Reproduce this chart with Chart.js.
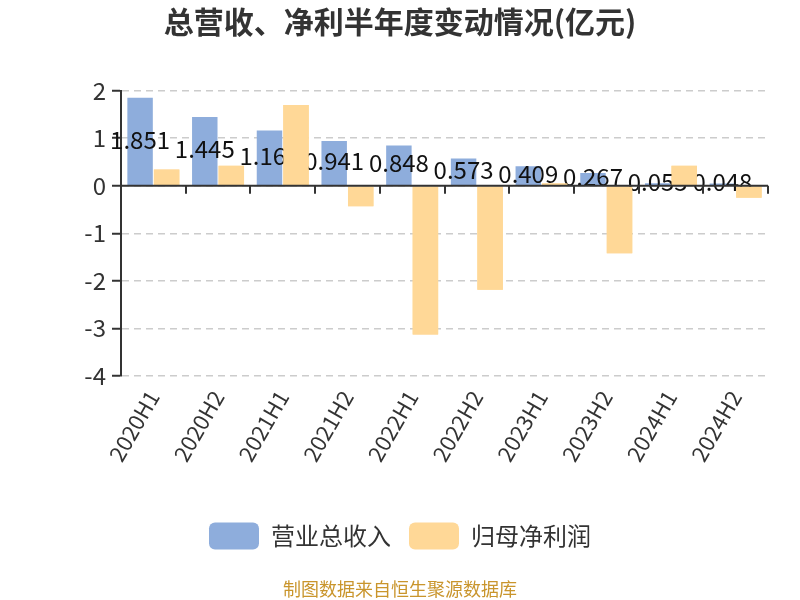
<!DOCTYPE html>
<html>
<head>
<meta charset="utf-8">
<script src="https://cdn.jsdelivr.net/npm/chart.js@4/dist/chart.umd.min.js"></script>
<style>
html,body{margin:0;padding:0;background:#fff;}
#wrap{width:800px;height:600px;position:relative;}
</style>
</head>
<body>
<div id="wrap"><canvas id="c" width="800" height="600"></canvas></div>
<script>
const categories = ['2020H1','2020H2','2021H1','2021H2','2022H1','2022H2','2023H1','2023H2','2024H1','2024H2'];
const revenue = [1.851,1.445,1.163,0.941,0.848,0.573,0.409,0.267,0.055,0.048];
const profit = [0.34,0.42,1.70,-0.43,-3.13,-2.19,0.05,-1.42,0.42,-0.25];
const seriesNames = ['营业总收入','归母净利润'];
const titleText = '总营收、净利半年度变动情况(亿元)';
const footerText = '制图数据来自恒生聚源数据库';
const yMin = -4, yMax = 2, yStep = 1;

const FONT = '"Noto Sans CJK SC","Noto Sans",sans-serif';

const overlayPlugin = {
  id: 'overlay',
  afterDatasetsDraw(chart) {
    const ctx = chart.ctx;
    const xs = chart.scales.x, ys = chart.scales.y;
    const meta0 = chart.getDatasetMeta(0);
    ctx.save();
    ctx.font = '24px ' + FONT;
    ctx.fillStyle = '#111';
    ctx.textAlign = 'center';
    ctx.textBaseline = 'middle';
    meta0.data.forEach((bar, i) => {
      const cy = (bar.y + bar.base) / 2 - 2;
      ctx.fillText(String(revenue[i]), bar.x, cy);
    });
    ctx.restore();
    const meta1 = chart.getDatasetMeta(1);
    meta1.controller.draw();
    const y0 = ys.getPixelForValue(0);
    ctx.save();
    ctx.strokeStyle = '#333';
    ctx.lineWidth = 2;
    ctx.beginPath();
    ctx.moveTo(chart.chartArea.left, y0);
    ctx.lineTo(chart.chartArea.right, y0);
    ctx.stroke();
    for (let i = 1; i <= categories.length; i++) {
      const px = Math.round(xs.getPixelForValue(i - 0.5));
      ctx.beginPath();
      ctx.moveTo(px, y0);
      ctx.lineTo(px, y0 + 8);
      ctx.stroke();
    }
    ctx.restore();
  }
};

new Chart(document.getElementById('c'), {
  type: 'bar',
  data: {
    labels: categories,
    datasets: [
      { label: seriesNames[0], data: revenue, backgroundColor: '#8eaddc', borderWidth: 0,
        categoryPercentage: 0.82, barPercentage: 0.96 },
      { label: seriesNames[1], data: profit, backgroundColor: '#ffd897', borderWidth: 0,
        categoryPercentage: 0.82, barPercentage: 0.96 }
    ]
  },
  options: {
    responsive: false,
    animation: false,
    devicePixelRatio: 1,
    layout: { padding: { left: 32, right: 32, top: 0, bottom: 0 } },
    plugins: {
      tooltip: { enabled: false },
      title: {
        display: true, text: titleText, color: '#333',
        font: { family: FONT, size: 30, weight: 'bold' },
        padding: { top: 4, bottom: 50.7 }
      },
      subtitle: {
        display: true, text: footerText, position: 'bottom', color: '#c9952c',
        font: { family: FONT, size: 18 },
        padding: { top: 19, bottom: 0 }
      },
      legend: {
        position: 'bottom',
        labels: {
          boxWidth: 50, boxHeight: 27, padding: 18, color: '#333',
          useBorderRadius: true, borderRadius: 6,
          font: { family: FONT, size: 24 }
        }
      }
    },
    scales: {
      x: {
        grid: { display: false, drawTicks: false },
        border: { display: false },
        ticks: {
          color: '#333', font: { family: FONT, size: 22 },
          minRotation: 60, maxRotation: 60, padding: 10, autoSkip: false
        },
        afterFit(scale) { scale.height = 128.5; }
      },
      y: {
        min: yMin, max: yMax,
        ticks: { stepSize: yStep, color: '#333', font: { family: FONT, size: 24 }, padding: 6 },
        grid: { color: '#ccc', lineWidth: 1.5, tickColor: '#333', tickLength: 9, tickWidth: 2 },
        border: { display: true, color: '#333', width: 2, dash: [7, 5] },
        afterFit(scale) { scale.width = 89; }
      }
    }
  },
  plugins: [overlayPlugin]
});
</script>
</body>
</html>
